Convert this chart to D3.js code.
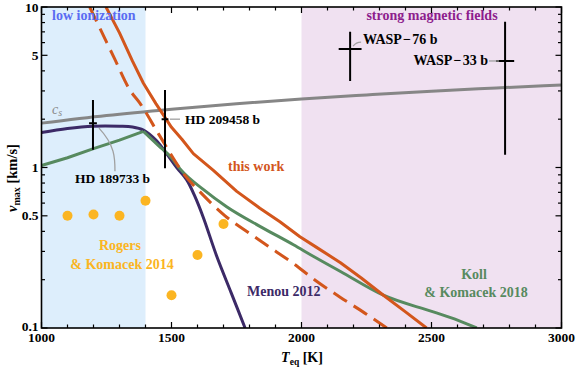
<!DOCTYPE html>
<html>
<head>
<meta charset="utf-8">
<script src="https://cdn.jsdelivr.net/npm/d3@7"></script>
<style>
  body { margin: 0; background: #fff; }
  svg text { font-family: "Liberation Serif", "Times New Roman", Tinos, "DejaVu Serif", "Noto Serif", serif; font-weight: bold; }
</style>
</head>
<body>
<div id="chart"></div>
<script>
// ---- data ----
const tempTicks = [1000, 1500, 2000, 2500, 3000];
const velTicks = [0.1, 0.5, 1, 5, 10];
const velTickLabels = ["0.1", "0.5", "1", "5", "10"];

const regionLow = [1000, 1400];
const regionMag = [2000, 3000];

const csT = [1000, 1250, 1500, 1750, 2000, 2250, 2500, 2750, 3000];
const csV = [1.89, 2.11, 2.31, 2.50, 2.67, 2.83, 2.99, 3.13, 3.27];

const workT = [1248, 1300, 1350, 1392, 1440, 1500, 1540, 1584, 1661, 1751, 1840, 1917, 1994, 2058, 2150, 2230, 2315, 2400, 2481];
const workV = [10, 6.9, 4.6, 3.35, 2.5, 1.78, 1.5, 1.22, 0.96, 0.71, 0.557, 0.459, 0.37, 0.318, 0.255, 0.205, 0.16, 0.126, 0.1];

const dashT = [1185, 1225, 1280, 1340, 1379, 1450, 1550, 1619, 1706, 1804, 1904, 1968, 2050, 2150, 2250, 2328];
const dashV = [10, 7.36, 4.8, 3.04, 2.51, 1.62, 0.9, 0.68, 0.5, 0.385, 0.298, 0.253, 0.2, 0.155, 0.122, 0.1];

const menouT = [1000, 1100, 1200, 1300, 1350, 1392, 1440, 1481, 1520, 1558, 1590, 1622, 1674, 1730, 1783];
const menouV = [1.65, 1.75, 1.81, 1.81, 1.79, 1.71, 1.48, 1.22, 1.0, 0.84, 0.66, 0.49, 0.28, 0.165, 0.1];

const kollT = [1000, 1100, 1200, 1300, 1392, 1450, 1500, 1533, 1622, 1712, 1840, 1969, 2045, 2150, 2315, 2507, 2600, 2674];
const kollV = [1.03, 1.15, 1.31, 1.48, 1.68, 1.37, 1.15, 0.98, 0.73, 0.57, 0.43, 0.33, 0.28, 0.225, 0.16, 0.126, 0.112, 0.1];

const rogersT = [1100, 1200, 1300, 1400, 1500, 1600, 1700];
const rogersV = [0.5, 0.51, 0.5, 0.62, 0.16, 0.285, 0.445];

const planetNames = ["HD 189733 b", "HD 209458 b", "WASP\u200A\u2212\u200A76 b", "WASP\u200A\u2212\u200A33 b"];
const planetT = [1198, 1475, 2187, 2783];
const planetTErr = [15, 13, 44, 35];
const planetV = [1.89, 2.0, 5.47, 4.61];
const planetLo = [1.29, 0.99, 3.46, 1.2];
const planetHi = [2.63, 3.04, 7.0, 8.1];

// ---- layout ----
const W = 577, H = 371;
const mLeft = 41.5, mRight = 561.5, mTop = 7, mBottom = 328;
const serif = '"Liberation Serif", "Times New Roman", Tinos, "DejaVu Serif", "Noto Serif", serif';

const x = d3.scaleLinear().domain([1000, 3000]).range([mLeft, mRight]);
const y = d3.scaleLog().domain([0.1, 10]).range([mBottom, mTop]);

const svg = d3.select("#chart").append("svg")
  .attr("width", W).attr("height", H)
  .attr("font-family", serif).attr("font-weight", "bold");

svg.append("defs").append("clipPath").attr("id", "plot")
  .append("rect").attr("x", mLeft).attr("y", mTop)
  .attr("width", mRight - mLeft).attr("height", mBottom - mTop);

// shaded regions
svg.append("rect")
  .attr("x", x(regionLow[0])).attr("y", mTop)
  .attr("width", x(regionLow[1]) - x(regionLow[0])).attr("height", mBottom - mTop)
  .attr("fill", "#ddeefc");
svg.append("rect")
  .attr("x", x(regionMag[0])).attr("y", mTop)
  .attr("width", x(regionMag[1]) - x(regionMag[0])).attr("height", mBottom - mTop)
  .attr("fill", "#f0e1f1");

const plot = svg.append("g").attr("clip-path", "url(#plot)");

function series(ts, vs) { return ts.map((t, i) => [t, vs[i]]); }
const smooth = d3.line().x(d => x(d[0])).y(d => y(d[1])).curve(d3.curveMonotoneX);
const straight = d3.line().x(d => x(d[0])).y(d => y(d[1]));

// c_s
plot.append("path").attr("d", smooth(series(csT, csV)))
  .attr("fill", "none").attr("stroke", "#868686").attr("stroke-width", 3);

// Menou 2012
plot.append("path").attr("d", d3.line().x(d => x(d[0])).y(d => y(d[1])).curve(d3.curveCatmullRom)(series(menouT, menouV)))
  .attr("fill", "none").attr("stroke", "#3c2a67").attr("stroke-width", 3);

// Koll & Komacek 2018
plot.append("path").attr("d", straight(series(kollT, kollV).slice(0, 5)))
  .attr("fill", "none").attr("stroke", "#578a5f").attr("stroke-width", 3);
plot.append("path").attr("d", smooth(series(kollT, kollV).slice(4)))
  .attr("fill", "none").attr("stroke", "#578a5f").attr("stroke-width", 3);

// this work (dashed + solid)
plot.append("path").attr("d", smooth(series(dashT, dashV)))
  .attr("fill", "none").attr("stroke", "#d3561c").attr("stroke-width", 3)
  .attr("stroke-dasharray", "16,8");
plot.append("path").attr("d", straight(series(workT, workV)))
  .attr("fill", "none").attr("stroke", "#d3561c").attr("stroke-width", 3)
  .attr("stroke-linejoin", "round");

// Rogers & Komacek 2014
plot.selectAll("circle.rk").data(series(rogersT, rogersV)).join("circle")
  .attr("cx", d => x(d[0])).attr("cy", d => y(d[1])).attr("r", 5)
  .attr("fill", "#fbb522");

// observed planets
planetT.forEach((t, i) => {
  plot.append("line").attr("x1", x(t)).attr("x2", x(t))
    .attr("y1", y(planetLo[i])).attr("y2", y(planetHi[i]))
    .attr("stroke", "#000").attr("stroke-width", 2);
  plot.append("line").attr("x1", x(t - planetTErr[i])).attr("x2", x(t + planetTErr[i]))
    .attr("y1", y(planetV[i])).attr("y2", y(planetV[i]))
    .attr("stroke", "#000").attr("stroke-width", 2);
});

// leaders
const leader = g => g.attr("fill", "none").attr("stroke", "#a0a0a0").attr("stroke-width", 1.3);
{
  const px = x(planetT[0]), py = y(planetV[0]);
  svg.append("path").call(leader)
    .attr("d", `M${px + 6},${py + 5} C${px + 22},${py + 22} ${px + 22},${py + 35} ${px + 22},${py + 48}`);
  const qx = x(planetT[1]), qy = y(planetV[1]);
  svg.append("path").call(leader).attr("d", `M${qx + 5},${qy} L${qx + 15},${qy}`);
  const rx = x(planetT[2]), ry = y(planetV[2]);
  svg.append("path").call(leader).attr("d", `M${rx + 3},${ry - 3} Q${rx + 6},${ry - 7} ${rx + 11},${ry - 7}`);
  const sx = x(planetT[3]), sy = y(planetV[3]);
  svg.append("path").call(leader).attr("d", `M${sx - 16},${sy} L${sx - 6},${sy}`);
}

// labels
function label(txt, lx, ly, color, size, anchor) {
  svg.append("text").attr("x", lx).attr("y", ly).attr("fill", color)
    .attr("font-size", size).attr("text-anchor", anchor || "start").text(txt);
}
label("low ionization", 52, 20, "#5a6cf2", 14);
label("strong magnetic fields", 432, 20, "#8d1d8d", 14, "middle");
label(planetNames[0], 75, 183, "#000", 13.5);
label(planetNames[1], 185, 124, "#000", 13.5);
label(planetNames[2], 363, 44, "#000", 14);
label(planetNames[3], 488, 65, "#000", 14, "end");
label("this work", 228, 171, "#d3561c", 14);
label("Menou 2012", 247, 296, "#3c2a67", 14);
label("Rogers", 120, 250, "#fbb522", 14, "middle");
label("& Komacek 2014", 122, 269, "#fbb522", 14, "middle");
label("Koll", 474, 279, "#578a5f", 14, "middle");
label("& Komacek 2018", 476, 297, "#578a5f", 14, "middle");

// c_s label
const cs = svg.append("text").attr("x", 52).attr("y", 114).attr("fill", "#8a8a8a")
  .attr("font-size", 14).style("font-style", "italic").style("font-weight", "normal");
cs.append("tspan").text("c");
cs.append("tspan").attr("font-size", 10).attr("dy", 2).text("s");

// frame and ticks
svg.append("rect").attr("x", mLeft).attr("y", mTop)
  .attr("width", mRight - mLeft).attr("height", mBottom - mTop)
  .attr("fill", "none").attr("stroke", "#000").attr("stroke-width", 1.6);

const xMinor = d3.range(1000, 3001, 100);
xMinor.forEach(t => {
  const major = t % 500 === 0;
  const len = major ? 6 : 3.5;
  svg.append("line").attr("x1", x(t)).attr("x2", x(t)).attr("y1", mBottom).attr("y2", mBottom - len)
    .attr("stroke", "#000").attr("stroke-width", 1.2);
  svg.append("line").attr("x1", x(t)).attr("x2", x(t)).attr("y1", mTop).attr("y2", mTop + len)
    .attr("stroke", "#000").attr("stroke-width", 1.2);
});
const yMinor = y.ticks();
yMinor.forEach(v => {
  const major = velTicks.some(m => Math.abs(m - v) < 1e-9);
  const len = major ? 6 : 3.5;
  svg.append("line").attr("x1", mLeft).attr("x2", mLeft + len).attr("y1", y(v)).attr("y2", y(v))
    .attr("stroke", "#000").attr("stroke-width", 1.2);
  svg.append("line").attr("x1", mRight).attr("x2", mRight - len).attr("y1", y(v)).attr("y2", y(v))
    .attr("stroke", "#000").attr("stroke-width", 1.2);
});

svg.selectAll("text.xt").data(tempTicks).join("text")
  .attr("x", d => x(d)).attr("y", mBottom + 14).attr("text-anchor", "middle")
  .attr("font-size", 13.5).text(d => d);
svg.selectAll("text.yt").data(velTicks).join("text")
  .attr("x", mLeft - 3).attr("y", (d, i) => y(d) + (i === 0 ? 3 : 4.5)).attr("text-anchor", "end")
  .attr("font-size", 13.5).text((d, i) => velTickLabels[i]);

// axis titles
const xt = svg.append("text").attr("x", 302).attr("y", 362).attr("text-anchor", "middle").attr("font-size", 14);
xt.append("tspan").style("font-style", "italic").text("T");
xt.append("tspan").attr("font-size", 9.5).attr("dy", 3).text("eq");
xt.append("tspan").attr("dy", -3).text(" [K]");

const yt = svg.append("text").attr("transform", "translate(17,178) rotate(-90)")
  .attr("text-anchor", "middle").attr("font-size", 14.5);
yt.append("tspan").style("font-style", "italic").text("v");
yt.append("tspan").attr("font-size", 10).attr("dy", 3).text("max");
yt.append("tspan").attr("dy", -3).text(" [km/s]");
</script>
</body>
</html>
